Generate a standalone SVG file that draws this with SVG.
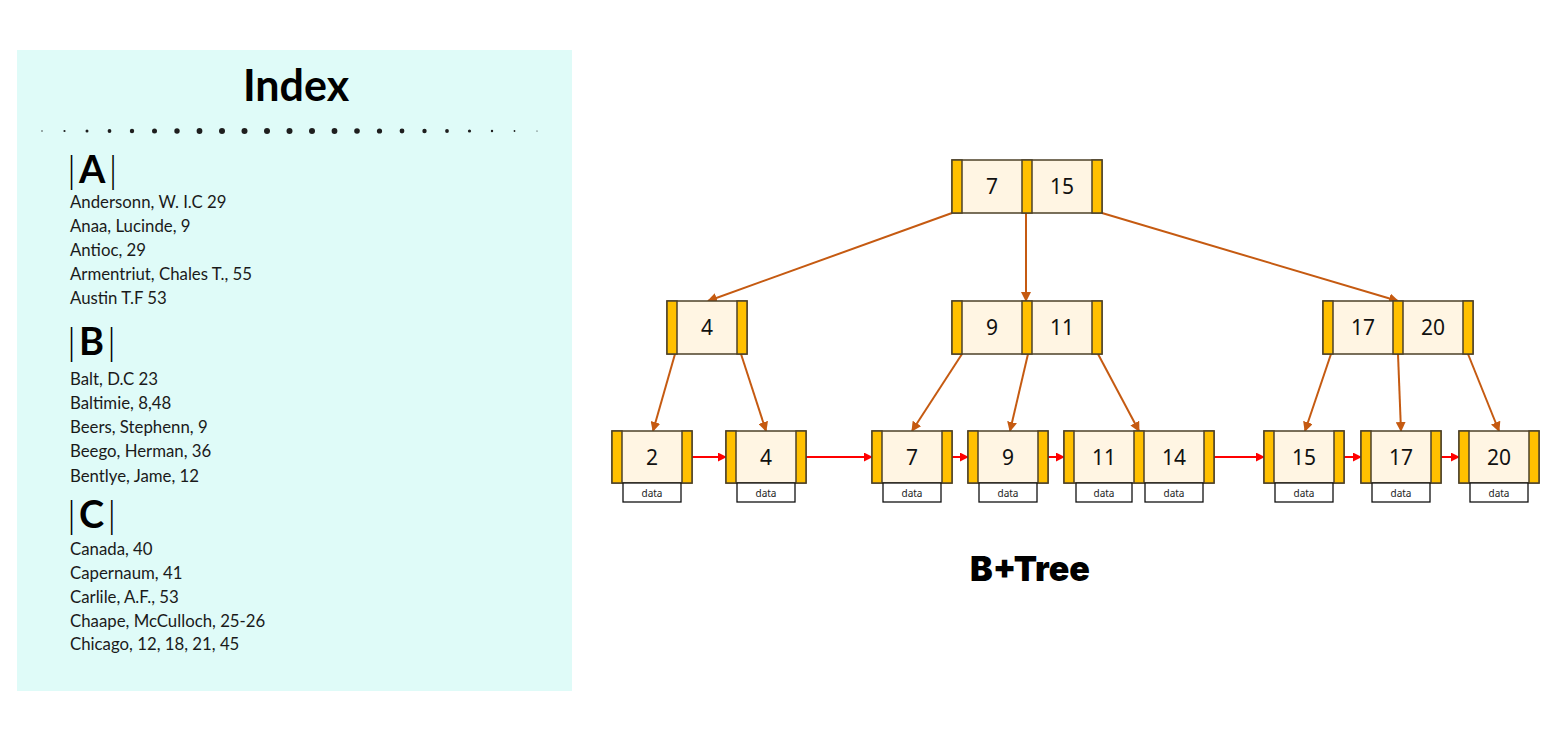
<svg xmlns="http://www.w3.org/2000/svg" width="1564" height="734" viewBox="0 0 1564 734">
<defs>
<style>
.cell{fill:#fff5e3;stroke:#4d4128;stroke-width:1.5}
.ptr{fill:#ffc000;stroke:#4d4128;stroke-width:1.5}
.num{font-family:"Noto Sans","DejaVu Sans",sans-serif;font-size:21px;fill:#111;text-anchor:middle}
.dbox{fill:#fff;stroke:#111;stroke-width:1.3}
.dtxt{font-family:"Noto Sans","DejaVu Sans",sans-serif;font-size:10px;fill:#222;text-anchor:middle}
.item{font-family:Lato,"Open Sans",sans-serif;font-size:16.8px;fill:#1a1a1a}
.head{font-family:Lato,"Open Sans",sans-serif;font-size:38px;fill:#000}
.bar{font-weight:300}
.let{font-weight:700}
.tree{stroke:#c55a11;stroke-width:2;fill:none;marker-end:url(#ao)}
.link{stroke:#ff0000;stroke-width:2;fill:none;marker-end:url(#ar)}
</style>
<marker id="ao" viewBox="0 0 10 10" refX="9" refY="5" markerWidth="5" markerHeight="5" orient="auto" markerUnits="strokeWidth">
<path d="M0,0 L10,5 L0,10 z" fill="#c55a11"/>
</marker>
<marker id="ar" viewBox="0 0 10 10" refX="9" refY="5" markerWidth="4.5" markerHeight="4.5" orient="auto" markerUnits="strokeWidth">
<path d="M0,0 L10,5 L0,10 z" fill="#ff0000"/>
</marker>
</defs>
<rect width="1564" height="734" fill="#fff"/>

<g id="index-panel">
<rect x="17" y="50" width="555" height="641" fill="#dffbf8"/>
<text x="296" y="101" font-family="Lato,'Open Sans',sans-serif" font-size="43" font-weight="700" text-anchor="middle" fill="#000">Index</text>
<g fill="#1e1e1e">
<circle cx="42" cy="131" r="0.7"/>
<circle cx="64.5" cy="131" r="1.1"/>
<circle cx="87" cy="131" r="1.5"/>
<circle cx="109.5" cy="131" r="1.9"/>
<circle cx="132" cy="131" r="2.2"/>
<circle cx="154.5" cy="131" r="2.5"/>
<circle cx="177" cy="131" r="2.7"/>
<circle cx="199.5" cy="131" r="2.9"/>
<circle cx="222" cy="131" r="3"/>
<circle cx="244.5" cy="131" r="3"/>
<circle cx="267" cy="131" r="3"/>
<circle cx="289.5" cy="131" r="3"/>
<circle cx="312" cy="131" r="3"/>
<circle cx="334.5" cy="131" r="2.9"/>
<circle cx="357" cy="131" r="2.8"/>
<circle cx="379.5" cy="131" r="2.6"/>
<circle cx="402" cy="131" r="2.4"/>
<circle cx="424.5" cy="131" r="2.2"/>
<circle cx="447" cy="131" r="1.9"/>
<circle cx="469.5" cy="131" r="1.6"/>
<circle cx="492" cy="131" r="1.2"/>
<circle cx="514.5" cy="131" r="0.9"/>
<circle cx="537" cy="131" r="0.6"/>
</g>
<text class="head" x="67" y="183"><tspan class="bar">|</tspan><tspan class="let" dx="3">A</tspan><tspan class="bar" dx="3">|</tspan></text>
<text class="item" x="70" y="208">Andersonn, W. I.C 29</text>
<text class="item" x="70" y="232">Anaa, Lucinde, 9</text>
<text class="item" x="70" y="256">Antioc, 29</text>
<text class="item" x="70" y="280">Armentriut, Chales T., 55</text>
<text class="item" x="70" y="304">Austin T.F 53</text>
<text class="head" x="67" y="355"><tspan class="bar">|</tspan><tspan class="let" dx="3">B</tspan><tspan class="bar" dx="3">|</tspan></text>
<text class="item" x="70" y="385">Balt, D.C 23</text>
<text class="item" x="70" y="409">Baltimie, 8,48</text>
<text class="item" x="70" y="433">Beers, Stephenn, 9</text>
<text class="item" x="70" y="457">Beego, Herman, 36</text>
<text class="item" x="70" y="482">Bentlye, Jame, 12</text>
<text class="head" x="67" y="528"><tspan class="bar">|</tspan><tspan class="let" dx="3">C</tspan><tspan class="bar" dx="3">|</tspan></text>
<text class="item" x="70" y="555">Canada, 40</text>
<text class="item" x="70" y="579">Capernaum, 41</text>
<text class="item" x="70" y="603">Carlile, A.F., 53</text>
<text class="item" x="70" y="627">Chaape, McCulloch, 25-26</text>
<text class="item" x="70" y="650">Chicago, 12, 18, 21, 45</text>
</g>

<g id="connectors">
<line class="tree" x1="952" y1="213" x2="708" y2="301"/>
<line class="tree" x1="1026" y1="213" x2="1026" y2="301"/>
<line class="tree" x1="1102" y1="213" x2="1398" y2="301"/>
<line class="tree" x1="675" y1="354" x2="653" y2="431"/>
<line class="tree" x1="741" y1="354" x2="766" y2="431"/>
<line class="tree" x1="962" y1="354" x2="912" y2="431"/>
<line class="tree" x1="1028" y1="354" x2="1010" y2="431"/>
<line class="tree" x1="1098" y1="354" x2="1139" y2="431"/>
<line class="tree" x1="1331" y1="354" x2="1305" y2="431"/>
<line class="tree" x1="1398" y1="354" x2="1401" y2="431"/>
<line class="tree" x1="1468" y1="354" x2="1499" y2="431"/>
<line class="link" x1="692" y1="457" x2="726" y2="457"/>
<line class="link" x1="806" y1="457" x2="872" y2="457"/>
<line class="link" x1="952" y1="457" x2="968" y2="457"/>
<line class="link" x1="1048" y1="457" x2="1064" y2="457"/>
<line class="link" x1="1214" y1="457" x2="1264" y2="457"/>
<line class="link" x1="1344" y1="457" x2="1361" y2="457"/>
<line class="link" x1="1441" y1="457" x2="1459" y2="457"/>
</g>

<g id="root" transform="translate(952,160)">
<rect class="cell" x="0" y="0" width="150" height="53"/>
<rect class="ptr" x="0" y="0" width="10" height="53"/>
<rect class="ptr" x="70" y="0" width="10" height="53"/>
<rect class="ptr" x="140" y="0" width="10" height="53"/>
<text class="num" x="40" y="34">7</text>
<text class="num" x="110" y="34">15</text>
</g>

<g id="inner-4" transform="translate(667,301)">
<rect class="cell" x="0" y="0" width="80" height="53"/>
<rect class="ptr" x="0" y="0" width="10" height="53"/>
<rect class="ptr" x="70" y="0" width="10" height="53"/>
<text class="num" x="40" y="34">4</text>
</g>

<g id="inner-9-11" transform="translate(952,301)">
<rect class="cell" x="0" y="0" width="150" height="53"/>
<rect class="ptr" x="0" y="0" width="10" height="53"/>
<rect class="ptr" x="70" y="0" width="10" height="53"/>
<rect class="ptr" x="140" y="0" width="10" height="53"/>
<text class="num" x="40" y="34">9</text>
<text class="num" x="110" y="34">11</text>
</g>

<g id="inner-17-20" transform="translate(1323,301)">
<rect class="cell" x="0" y="0" width="150" height="53"/>
<rect class="ptr" x="0" y="0" width="10" height="53"/>
<rect class="ptr" x="70" y="0" width="10" height="53"/>
<rect class="ptr" x="140" y="0" width="10" height="53"/>
<text class="num" x="40" y="34">17</text>
<text class="num" x="110" y="34">20</text>
</g>

<g id="leaf-2" transform="translate(612,431)">
<rect class="cell" x="0" y="0" width="80" height="52"/>
<rect class="ptr" x="0" y="0" width="10" height="52"/>
<rect class="ptr" x="70" y="0" width="10" height="52"/>
<text class="num" x="40" y="34">2</text>
<rect class="dbox" x="11" y="52" width="58" height="19"/>
<text class="dtxt" x="40" y="65.5">data</text>
</g>
<g id="leaf-4" transform="translate(726,431)">
<rect class="cell" x="0" y="0" width="80" height="52"/>
<rect class="ptr" x="0" y="0" width="10" height="52"/>
<rect class="ptr" x="70" y="0" width="10" height="52"/>
<text class="num" x="40" y="34">4</text>
<rect class="dbox" x="11" y="52" width="58" height="19"/>
<text class="dtxt" x="40" y="65.5">data</text>
</g>
<g id="leaf-7" transform="translate(872,431)">
<rect class="cell" x="0" y="0" width="80" height="52"/>
<rect class="ptr" x="0" y="0" width="10" height="52"/>
<rect class="ptr" x="70" y="0" width="10" height="52"/>
<text class="num" x="40" y="34">7</text>
<rect class="dbox" x="11" y="52" width="58" height="19"/>
<text class="dtxt" x="40" y="65.5">data</text>
</g>
<g id="leaf-9" transform="translate(968,431)">
<rect class="cell" x="0" y="0" width="80" height="52"/>
<rect class="ptr" x="0" y="0" width="10" height="52"/>
<rect class="ptr" x="70" y="0" width="10" height="52"/>
<text class="num" x="40" y="34">9</text>
<rect class="dbox" x="11" y="52" width="58" height="19"/>
<text class="dtxt" x="40" y="65.5">data</text>
</g>
<g id="leaf-11-14" transform="translate(1064,431)">
<rect class="cell" x="0" y="0" width="150" height="52"/>
<rect class="ptr" x="0" y="0" width="10" height="52"/>
<rect class="ptr" x="70" y="0" width="10" height="52"/>
<rect class="ptr" x="140" y="0" width="10" height="52"/>
<text class="num" x="40" y="34">11</text>
<text class="num" x="110" y="34">14</text>
<rect class="dbox" x="12" y="52" width="56" height="19"/>
<text class="dtxt" x="40" y="65.5">data</text>
<rect class="dbox" x="81" y="52" width="58" height="19"/>
<text class="dtxt" x="110" y="65.5">data</text>
</g>
<g id="leaf-15" transform="translate(1264,431)">
<rect class="cell" x="0" y="0" width="80" height="52"/>
<rect class="ptr" x="0" y="0" width="10" height="52"/>
<rect class="ptr" x="70" y="0" width="10" height="52"/>
<text class="num" x="40" y="34">15</text>
<rect class="dbox" x="11" y="52" width="58" height="19"/>
<text class="dtxt" x="40" y="65.5">data</text>
</g>
<g id="leaf-17" transform="translate(1361,431)">
<rect class="cell" x="0" y="0" width="80" height="52"/>
<rect class="ptr" x="0" y="0" width="10" height="52"/>
<rect class="ptr" x="70" y="0" width="10" height="52"/>
<text class="num" x="40" y="34">17</text>
<rect class="dbox" x="11" y="52" width="58" height="19"/>
<text class="dtxt" x="40" y="65.5">data</text>
</g>
<g id="leaf-20" transform="translate(1459,431)">
<rect class="cell" x="0" y="0" width="80" height="52"/>
<rect class="ptr" x="0" y="0" width="10" height="52"/>
<rect class="ptr" x="70" y="0" width="10" height="52"/>
<text class="num" x="40" y="34">20</text>
<rect class="dbox" x="11" y="52" width="58" height="19"/>
<text class="dtxt" x="40" y="65.5">data</text>
</g>

<g id="title">
<text x="1030" y="581" font-family="Inter,Lato,sans-serif" font-size="34" font-weight="900" text-anchor="middle" fill="#000">B+Tree</text>
</g>
</svg>
